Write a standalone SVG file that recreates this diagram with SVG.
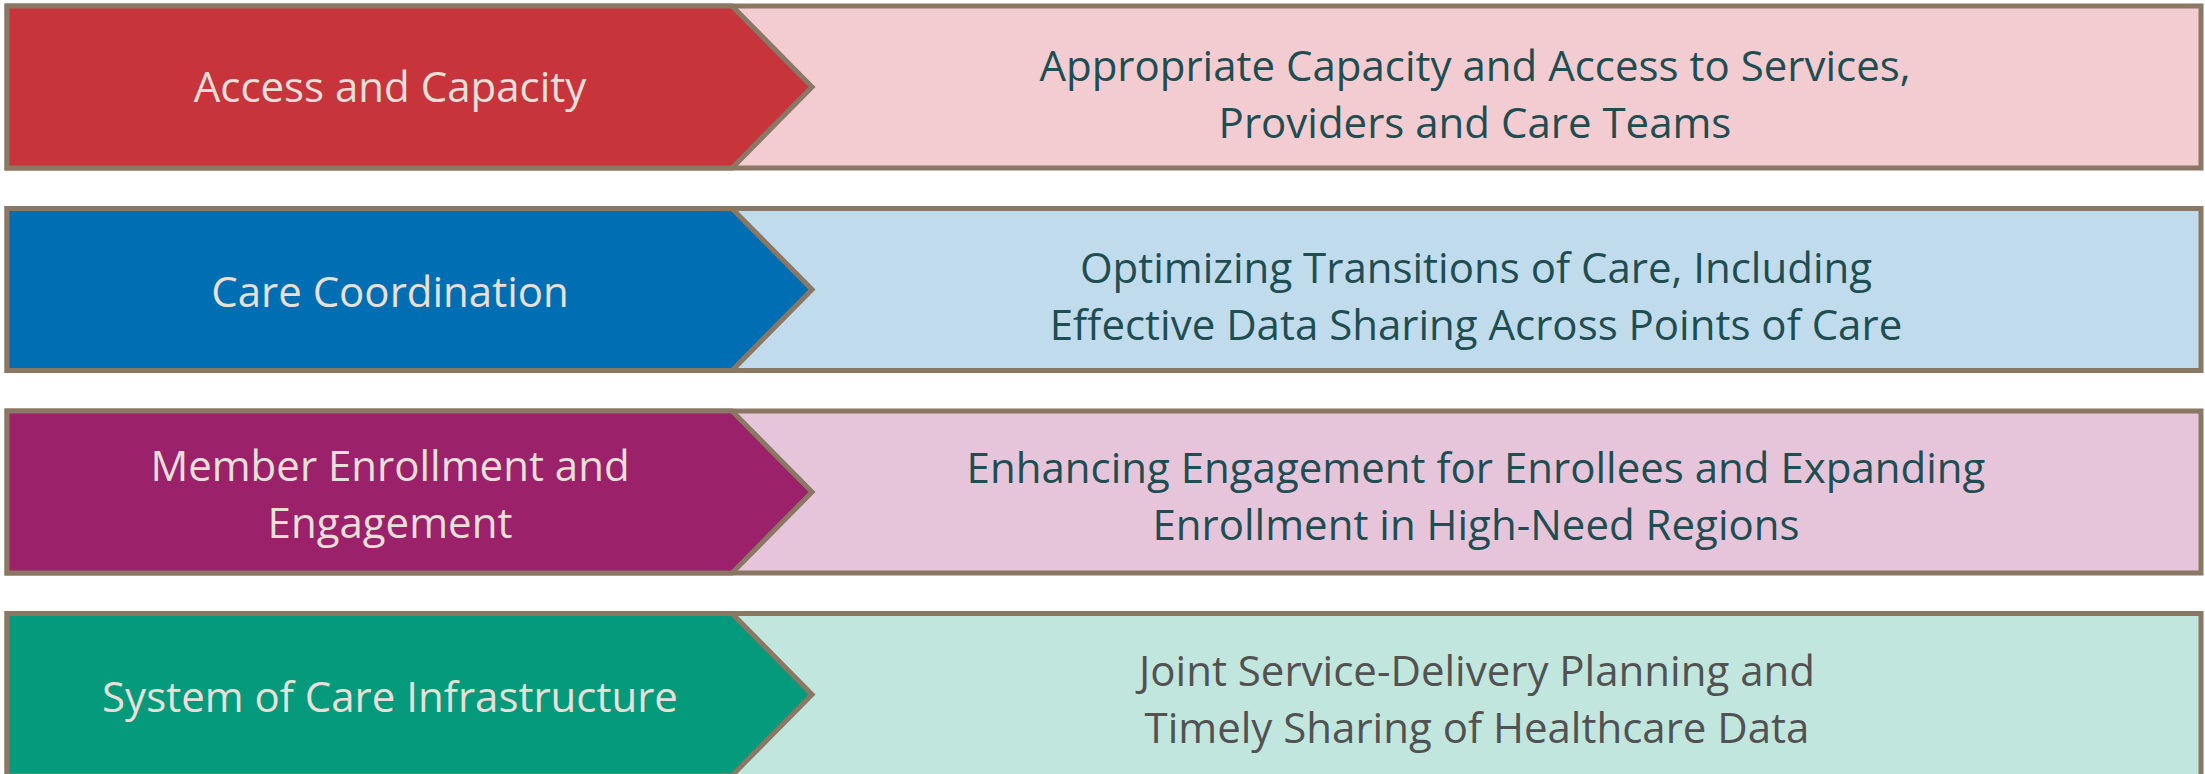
<svg xmlns="http://www.w3.org/2000/svg" width="2205" height="774" viewBox="0 0 2205 774">
  <style>
    .frame { stroke: #8A7764; stroke-width: 5; stroke-linejoin: miter; }
    .label { font-family: "Open Sans", "Liberation Sans", sans-serif; font-size: 42px; fill: #E8E0D8; text-anchor: middle; }
    .desc { font-family: "Open Sans", "Liberation Sans", sans-serif; font-size: 42px; fill: #1E4D52; text-anchor: middle; }
    .desc.grey { fill: #525252; }
  </style>
  <rect width="2205" height="774" fill="#FFFFFF"/>

  <!-- Row 1: Access and Capacity -->
  <g id="access-capacity">
    <rect class="frame" x="7" y="6" width="2194" height="162" fill="#F2CCD0"/>
    <polygon class="frame" points="7,6 732,6 812,87 732,168 7,168" fill="#C8343C"/>
    <text class="label" x="390" y="102">Access and Capacity</text>
    <text class="desc" x="1475" y="81">Appropriate Capacity and Access to Services,</text>
    <text class="desc" x="1475" y="138">Providers and Care Teams</text>
  </g>

  <!-- Row 2: Care Coordination -->
  <g id="care-coordination">
    <rect class="frame" x="7" y="208.5" width="2194" height="162" fill="#C0DCEC"/>
    <polygon class="frame" points="7,208.5 732,208.5 812,289.5 732,370.5 7,370.5" fill="#006EB2"/>
    <text class="label" x="390" y="307">Care Coordination</text>
    <text class="desc" x="1476" y="283">Optimizing Transitions of Care, Including</text>
    <text class="desc" x="1476" y="340">Effective Data Sharing Across Points of Care</text>
  </g>

  <!-- Row 3: Member Enrollment and Engagement -->
  <g id="member-enrollment">
    <rect class="frame" x="7" y="411" width="2194" height="162" fill="#E6C5DA"/>
    <polygon class="frame" points="7,411 732,411 812,492 732,573 7,573" fill="#9B216A"/>
    <text class="label" x="390" y="481">Member Enrollment and</text>
    <text class="label" x="390" y="538">Engagement</text>
    <text class="desc" x="1476" y="483">Enhancing Engagement for Enrollees and Expanding</text>
    <text class="desc" x="1476" y="540">Enrollment in High-Need Regions</text>
  </g>

  <!-- Row 4: System of Care Infrastructure (runs past the lower edge) -->
  <g id="system-of-care">
    <rect class="frame" x="7" y="613.5" width="2194" height="166" fill="#C0E6DE"/>
    <polygon class="frame" points="7,613.5 732,613.5 812,694.5 732,775.5 7,775.5" fill="#049A7B"/>
    <text class="label" x="390" y="712">System of Care Infrastructure</text>
    <text class="desc grey" x="1477" y="686">Joint Service-Delivery Planning and</text>
    <text class="desc grey" x="1477" y="743">Timely Sharing of Healthcare Data</text>
  </g>

  <g id="connectors"/>
</svg>
